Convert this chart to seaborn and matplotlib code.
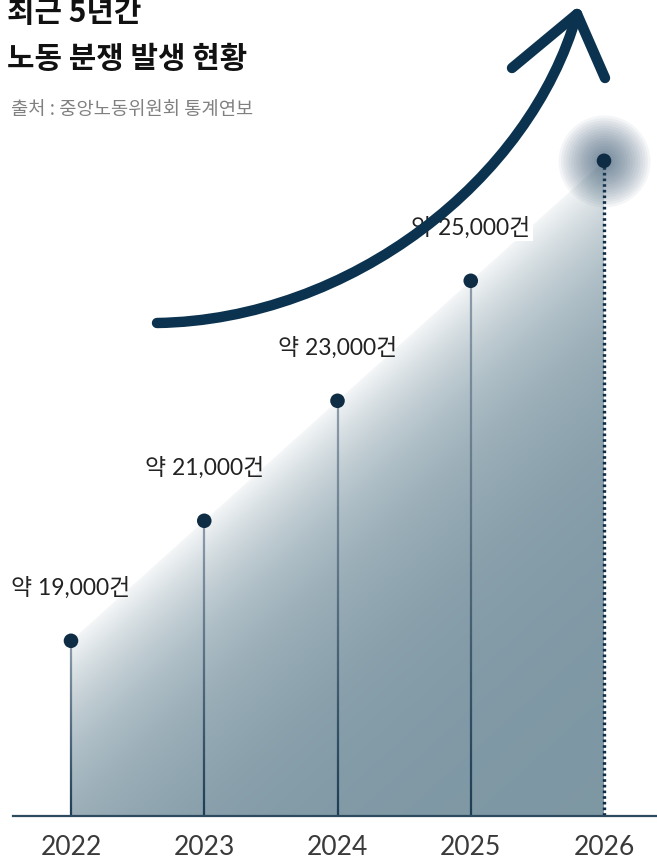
"""
Recent 5-year labour dispute counts: gradient area under the trend, drop
lines for each year, a glowing marker for the projected year and a big
hand-drawn style arrow.
"""

import numpy as np
import matplotlib.pyplot as plt
import matplotlib.transforms as mtransforms
from matplotlib.path import Path
from matplotlib.patches import PathPatch
from matplotlib.collections import LineCollection
import seaborn as sns

# data
YEARS = [2022, 2023, 2024, 2025, 2026]
CASES = [19000, 21000, 23000, 25000, 27000]
LABELED = [True, True, True, True, False]  # 2026 has no value label
TITLE_1 = "최근 5년간"
TITLE_2 = "노동 분쟁 발생 현황"
SOURCE = "출처 : 중앙노동위원회 통계연보"

# settings
W, H = 657, 861
NAVY = "#0b3350"
DOT = "#0f2c45"
FILL_DARK = np.array([0.49, 0.59, 0.64])
Y_BOTTOM = 16080
Y_TOP = 29680

sns.set_theme(style="white")
plt.rcParams["font.family"] = ["Lato", "Noto Sans CJK KR", "DejaVu Sans"]


def main():
    fig = plt.figure(figsize=(W / 100, H / 100), dpi=100)
    # axes spans from the axis line (px 816) to the top edge
    ax = fig.add_axes([13 / W, 1 - 816 / H, (W - 13) / W, 816 / H])
    x_lo = YEARS[0] - 58 / 133.25
    x_hi = YEARS[-1] + 53 / 133.25
    ax.set_xlim(x_lo, x_hi)
    ax.set_ylim(Y_BOTTOM, Y_TOP)

    # ===== gradient area =====
    xs = np.linspace(YEARS[0], YEARS[-1], 400)
    ys = np.linspace(Y_BOTTOM, max(CASES), 400)
    gx, gy = np.meshgrid(xs, ys)
    depth = np.interp(gx, YEARS, CASES) - gy
    t = 0.08 + 0.92 * (1 - np.exp(-np.clip(depth, 0, None) / 2170))
    rgb = 1 - t[..., None] * (1 - FILL_DARK[None, None, :])
    im = ax.imshow(rgb, extent=[YEARS[0], YEARS[-1], Y_BOTTOM, max(CASES)],
                   origin="lower", aspect="auto", interpolation="bilinear",
                   zorder=1)
    poly = ax.fill_between(YEARS, CASES, Y_BOTTOM, facecolor="none",
                           edgecolor="none")
    im.set_clip_path(poly.get_paths()[0], transform=ax.transData)

    # ===== drop lines =====
    for yr, val in zip(YEARS[:-1], CASES[:-1]):
        yy = np.linspace(val, Y_BOTTOM, 60)
        segs = [[(yr, yy[i]), (yr, yy[i + 1])] for i in range(len(yy) - 1)]
        frac = np.linspace(0, 1, len(segs))
        cols = [(0.55 - 0.43 * f, 0.61 - 0.37 * f, 0.67 - 0.34 * f, 1)
                for f in frac]
        ax.add_collection(LineCollection(segs, colors=cols, linewidths=1.6,
                                         zorder=2))
    ax.plot([YEARS[-1], YEARS[-1]], [CASES[-1], Y_BOTTOM], color=DOT,
            lw=2.4, ls=(0, (0.8, 0.9)), zorder=2)

    # glow around the projected point
    for r in np.linspace(46, 8, 16):
        ax.scatter(YEARS[-1], CASES[-1], s=(2 * r * 0.72) ** 2,
                   color="#2a4d66", alpha=0.05, lw=0, zorder=3)

    # points
    sns.scatterplot(x=YEARS, y=CASES, s=110, color=DOT, edgecolor="none",
                    ax=ax, zorder=4)

    # value labels
    for yr, val, show in zip(YEARS, CASES, LABELED):
        if not show:
            continue
        bbox = None
        if yr == 2025:
            bbox = dict(boxstyle="square,pad=0.1", fc="white", ec="none")
        ax.annotate(f"약 {val:,}건", (yr, val), xytext=(0, 38),
                    textcoords="offset points", ha="center", va="center",
                    fontsize=16.5, color="#222222", bbox=bbox, zorder=6)

    # axis styling
    for side in ["top", "left", "right"]:
        ax.spines[side].set_visible(False)
    ax.spines["bottom"].set_color("#2d4a5f")
    ax.spines["bottom"].set_linewidth(1.6)
    ax.set_yticks([])
    ax.set_xticks(YEARS, labels=[str(y) for y in YEARS])
    ax.tick_params(axis="x", length=0, pad=14, labelsize=19,
                   labelcolor="#3a3a3a")
    ax.set_facecolor("none")

    # ===== big arrow (pixel coords, origin at top-left) =====
    px = mtransforms.Affine2D().scale(1 / W, -1 / H).translate(0, 1) \
        + fig.transFigure
    shaft = Path([(157, 323), (350, 320), (530, 180), (577, 14)],
                 [Path.MOVETO, Path.CURVE4, Path.CURVE4, Path.CURVE4])
    head = Path([(512, 68), (577, 14), (605, 78)],
                [Path.MOVETO, Path.LINETO, Path.LINETO])
    for p in [shaft, head]:
        patch = PathPatch(p, transform=px, fc="none", ec=NAVY, lw=7.5,
                          capstyle="round", joinstyle="round", zorder=5)
        patch.set_clip_on(False)
        fig.add_artist(patch)

    # ===== titles =====
    kr = ["Noto Sans CJK KR", "DejaVu Sans"]
    fig.text(7 / W, 1 - 13 / H, TITLE_1, family=kr, fontsize=21.5,
             fontweight="bold", color="#111111", va="center", ha="left")
    fig.text(7 / W, 1 - 59 / H, TITLE_2, family=kr, fontsize=21.5,
             fontweight="bold", color="#111111", va="center", ha="left")
    fig.text(11 / W, 1 - 109 / H, SOURCE, family=kr, fontsize=13.5,
             color="#808080", va="center", ha="left")

    fig.savefig("out.png", dpi=100)
    plt.close("all")


if __name__ == "__main__":
    main()
